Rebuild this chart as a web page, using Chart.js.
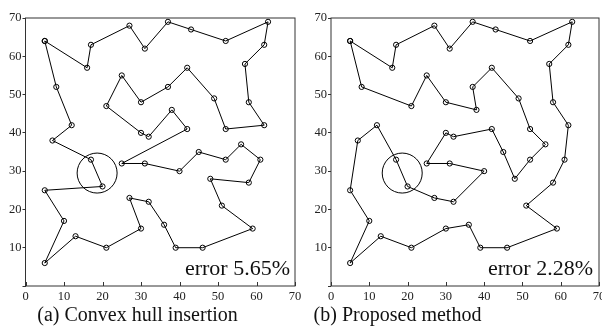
<!DOCTYPE html>
<html>
<head>
<meta charset="utf-8">
<script src="https://cdn.jsdelivr.net/npm/chart.js@4/dist/chart.umd.min.js"></script>
<style>
  html, body { margin: 0; padding: 0; background: #fff; width: 602px; height: 327px; overflow: hidden; }
  canvas { position: absolute; top: 0; }
</style>
</head>
<body>
<canvas id="cA" width="310" height="327" style="left:0;width:310px;height:327px;"></canvas>
<canvas id="cB" width="312" height="327" style="left:300px;width:312px;height:327px;"></canvas>
<script>
// Tour (a): Convex hull insertion
const tourAX = [5,16,17,27,31,37,43,52,63,62,57,58,62,52,49,42,37,30,25,21,30,32,38,42,25,31,40,45,52,56,61,58,48,51,59,46,39,36,32,27,30,21,13,5,10,5,20,17,7,12,8];
const tourAY = [64,57,63,68,62,69,67,64,69,63,58,48,42,41,49,57,52,48,55,47,40,39,46,41,32,32,30,35,33,37,33,27,28,21,15,10,10,16,22,23,15,10,13,6,17,25,26,33,38,42,52];
// Tour (b): Proposed method
const tourBX = [5,16,17,27,31,37,43,52,63,62,57,58,62,61,58,51,59,46,39,36,30,21,13,5,10,5,7,12,17,20,27,32,40,31,25,30,32,42,45,48,52,56,52,49,42,37,38,30,25,21,8];
const tourBY = [64,57,63,68,62,69,67,64,69,63,58,48,42,33,27,21,15,10,10,16,15,10,13,6,17,25,38,42,33,26,23,22,30,32,32,40,39,41,35,28,33,37,41,49,57,52,46,48,55,47,52];
// Highlight circle centre
const circleX = [18.6];
const circleY = [29.5];
// Axis ticks
const xTicks = [0,10,20,30,40,50,60,70];
const yTicks = [0,10,20,30,40,50,60,70];
// Texts
const titles = ['(a) Convex hull insertion', '(b) Proposed method'];
const errors = ['error 5.65%', 'error 2.28%'];

const FONT = "'Liberation Serif', 'Times New Roman', serif";

function toPoints(xs, ys, close) {
  const pts = xs.map((x, i) => ({ x: x, y: ys[i] }));
  if (close) pts.push({ x: xs[0], y: ys[0] });
  return pts;
}

const decor = {
  id: 'decor',
  afterDatasetsDraw(chart, args, opts) {
    const ctx = chart.ctx;
    const a = chart.chartArea;
    const xs = chart.scales.x;
    ctx.save();
    ctx.strokeStyle = '#333';
    ctx.lineWidth = 1;
    ctx.strokeRect(a.left, a.top, a.right - a.left, a.bottom - a.top);
    ctx.beginPath();
    xTicks.forEach(v => {
      const p = Math.round(xs.getPixelForValue(v)) + 0.5;
      ctx.moveTo(p, a.bottom);
      ctx.lineTo(p, a.bottom - 4);
    });
    ctx.stroke();
    ctx.fillStyle = '#111';
    ctx.font = '22px ' + FONT;
    ctx.textAlign = 'right';
    ctx.textBaseline = 'alphabetic';
    ctx.fillText(opts.error, opts.errorX, 275);
    ctx.font = '20px ' + FONT;
    ctx.textAlign = 'center';
    ctx.fillText(opts.title, opts.titleX, 321);
    ctx.restore();
  }
};

function makeChart(id, xs, ys, title, error, yWidth, padRight, titleX, errorX) {
  return new Chart(document.getElementById(id), {
    type: 'scatter',
    data: {
      datasets: [
        {
          data: toPoints(xs, ys, true),
          showLine: true,
          borderColor: '#000',
          borderWidth: 1,
          pointRadius: 2.6,
          pointBorderWidth: 1,
          pointBorderColor: '#000',
          pointBackgroundColor: 'rgba(0,0,0,0)',
          tension: 0
        },
        {
          data: toPoints(circleX, circleY, false),
          showLine: false,
          pointRadius: 20,
          pointBorderWidth: 1,
          pointBorderColor: '#000',
          pointBackgroundColor: 'rgba(0,0,0,0)'
        }
      ]
    },
    options: {
      responsive: false,
      animation: false,
      events: [],
      layout: { autoPadding: false, padding: { top: 18, right: padRight, bottom: 23, left: 0 } },
      plugins: {
        legend: { display: false },
        tooltip: { enabled: false },
        decor: { title: title, error: error, titleX: titleX, errorX: errorX }
      },
      scales: {
        x: {
          type: 'linear',
          min: 0, max: 70,
          afterBuildTicks: s => { s.ticks = xTicks.map(v => ({ value: v })); },
          afterFit: s => { s.height = 18; s.paddingLeft = 0; s.paddingRight = 0; },
          grid: { display: false, drawTicks: false },
          border: { display: false },
          ticks: { padding: 3, color: '#222', font: { family: FONT, size: 12.5 }, maxRotation: 0 }
        },
        y: {
          type: 'linear',
          min: 0, max: 70,
          afterBuildTicks: s => { s.ticks = yTicks.map(v => ({ value: v })); },
          afterFit: s => { s.width = yWidth; s.paddingTop = 0; s.paddingBottom = 0; },
          grid: { drawOnChartArea: false, drawTicks: true, tickLength: 3, color: '#333', lineWidth: 1 },
          border: { display: false },
          ticks: {
            padding: 1, color: '#222', font: { family: FONT, size: 12.5 },
            callback: v => (v === 0 ? '' : String(v))
          }
        }
      }
    },
    plugins: [decor]
  });
}

makeChart('cA', tourAX, tourAY, titles[0], errors[0], 25.5, 15, 137.5, 290);
makeChart('cB', tourBX, tourBY, titles[1], errors[1], 31, 13, 97.5, 293);
</script>
</body>
</html>
